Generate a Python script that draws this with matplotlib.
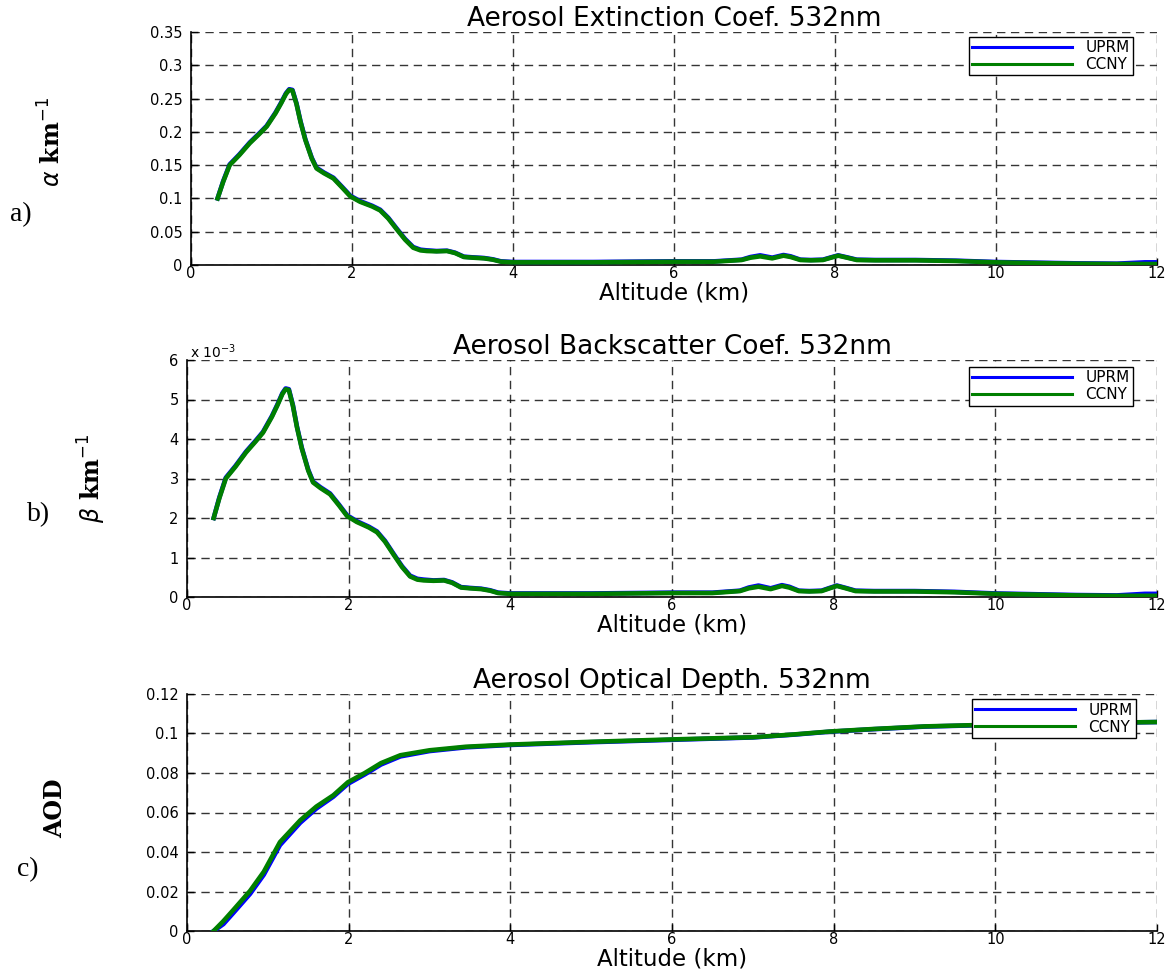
import matplotlib
matplotlib.use("Agg")
import matplotlib.pyplot as plt
from matplotlib.ticker import FuncFormatter

# ---------------- data ----------------
# Extinction coefficient (km^-1) versus altitude (km)
ext_alt = [0.33, 0.40, 0.48, 0.60, 0.73, 0.85, 0.94, 1.05, 1.12, 1.18, 1.22, 1.26,
           1.31, 1.36, 1.42, 1.50, 1.56, 1.65, 1.77, 1.88, 1.98, 2.10, 2.25, 2.35,
           2.45, 2.56, 2.66, 2.76, 2.85, 2.93, 3.05, 3.18, 3.28, 3.39, 3.50, 3.64,
           3.75, 3.85, 4.0, 4.5, 5.0, 5.5, 6.0, 6.5, 6.84, 6.95, 7.07, 7.22, 7.36,
           7.45, 7.57, 7.70, 7.85, 7.95, 8.04, 8.15, 8.27, 8.5, 9.0, 9.5, 10.0,
           10.5, 11.0, 11.5, 11.85, 12.0]
ext_ccny = [0.100, 0.125, 0.150, 0.165, 0.183, 0.197, 0.208, 0.228, 0.243, 0.257,
            0.263, 0.262, 0.242, 0.215, 0.188, 0.160, 0.145, 0.138, 0.130, 0.116,
            0.103, 0.095, 0.088, 0.082, 0.070, 0.053, 0.038, 0.026, 0.022, 0.021,
            0.0205, 0.021, 0.018, 0.012, 0.011, 0.010, 0.008, 0.005, 0.004, 0.004,
            0.004, 0.0045, 0.005, 0.005, 0.0075, 0.011, 0.0130, 0.010, 0.014, 0.012,
            0.0075, 0.007, 0.0075, 0.011, 0.014, 0.011, 0.0075, 0.007, 0.007,
            0.006, 0.004, 0.003, 0.002, 0.0015, 0.0015, 0.0015]
ext_uprm = [0.100, 0.126, 0.151, 0.166, 0.184, 0.198, 0.209, 0.229, 0.244, 0.258,
            0.264, 0.263, 0.243, 0.216, 0.189, 0.161, 0.146, 0.139, 0.131, 0.117,
            0.104, 0.096, 0.089, 0.083, 0.071, 0.054, 0.039, 0.027, 0.023, 0.022,
            0.021, 0.0215, 0.0185, 0.0125, 0.0115, 0.0105, 0.0085, 0.0055, 0.0045,
            0.0045, 0.0045, 0.005, 0.0055, 0.0055, 0.008, 0.012, 0.0145, 0.011,
            0.015, 0.013, 0.008, 0.0075, 0.008, 0.0115, 0.0145, 0.0115, 0.008,
            0.0075, 0.0075, 0.0065, 0.0045, 0.0035, 0.0025, 0.002, 0.004, 0.004]

# Backscatter coefficient (km^-1 sr^-1) versus altitude (km)
bsc_ccny = [2.00e-3, 2.50e-3, 3.00e-3, 3.30e-3, 3.66e-3, 3.94e-3, 4.16e-3, 4.56e-3,
            4.86e-3, 5.14e-3, 5.26e-3, 5.24e-3, 4.84e-3, 4.30e-3, 3.76e-3, 3.20e-3,
            2.90e-3, 2.76e-3, 2.60e-3, 2.32e-3, 2.05e-3, 1.90e-3, 1.76e-3, 1.64e-3,
            1.40e-3, 1.06e-3, 0.76e-3, 0.52e-3, 0.44e-3, 0.42e-3, 0.41e-3, 0.42e-3,
            0.36e-3, 0.24e-3, 0.22e-3, 0.20e-3, 0.16e-3, 0.10e-3, 0.08e-3, 0.08e-3,
            0.08e-3, 0.09e-3, 0.10e-3, 0.10e-3, 0.15e-3, 0.22e-3, 0.26e-3, 0.20e-3,
            0.28e-3, 0.24e-3, 0.15e-3, 0.14e-3, 0.15e-3, 0.22e-3, 0.28e-3, 0.22e-3,
            0.15e-3, 0.14e-3, 0.14e-3, 0.12e-3, 0.08e-3, 0.06e-3, 0.04e-3, 0.03e-3,
            0.03e-3, 0.03e-3]
bsc_uprm = [2.00e-3, 2.52e-3, 3.02e-3, 3.32e-3, 3.68e-3, 3.96e-3, 4.18e-3, 4.58e-3,
            4.88e-3, 5.16e-3, 5.28e-3, 5.26e-3, 4.86e-3, 4.32e-3, 3.78e-3, 3.22e-3,
            2.92e-3, 2.78e-3, 2.62e-3, 2.34e-3, 2.07e-3, 1.92e-3, 1.78e-3, 1.66e-3,
            1.42e-3, 1.08e-3, 0.78e-3, 0.54e-3, 0.46e-3, 0.44e-3, 0.42e-3, 0.43e-3,
            0.37e-3, 0.25e-3, 0.23e-3, 0.21e-3, 0.17e-3, 0.11e-3, 0.09e-3, 0.09e-3,
            0.09e-3, 0.10e-3, 0.11e-3, 0.11e-3, 0.16e-3, 0.24e-3, 0.29e-3, 0.22e-3,
            0.30e-3, 0.26e-3, 0.16e-3, 0.15e-3, 0.16e-3, 0.23e-3, 0.29e-3, 0.23e-3,
            0.16e-3, 0.15e-3, 0.15e-3, 0.13e-3, 0.09e-3, 0.07e-3, 0.05e-3, 0.04e-3,
            0.08e-3, 0.08e-3]

# Aerosol optical depth versus altitude (km)
aod_alt = [0.33, 0.45, 0.57, 0.78, 0.95, 1.15, 1.40, 1.60, 1.81, 1.99, 2.20, 2.40,
           2.64, 3.00, 3.45, 4.0, 5.0, 6.0, 7.0, 7.5, 7.95, 8.5, 9.13, 10.0, 11.0,
           12.0]
aod_ccny = [0.0, 0.005, 0.0105, 0.0203, 0.030, 0.045, 0.056, 0.063, 0.0687, 0.0753,
            0.080, 0.085, 0.089, 0.0915, 0.0933, 0.0944, 0.0958, 0.0970, 0.0981,
            0.0995, 0.1010, 0.1023, 0.1036, 0.1045, 0.1053, 0.1058]
aod_uprm = [0.0, 0.0035, 0.0090, 0.0188, 0.0285, 0.0435, 0.0548, 0.0620, 0.0680,
            0.0745, 0.0793, 0.0843, 0.0884, 0.0911, 0.0930, 0.0942, 0.0956, 0.0968,
            0.0980, 0.0994, 0.1009, 0.1022, 0.1035, 0.1044, 0.1052, 0.1058]

series_names = ["UPRM", "CCNY"]
titles = ["Aerosol Extinction Coef. 532nm",
          "Aerosol Backscatter Coef. 532nm",
          "Aerosol Optical Depth. 532nm"]
panel_tags = ["a)", "b)", "c)"]
xticks = [0, 2, 4, 6, 8, 10, 12]
yticks_ext = [0, 0.05, 0.1, 0.15, 0.2, 0.25, 0.3, 0.35]
yticks_bsc = [0, 1e-3, 2e-3, 3e-3, 4e-3, 5e-3, 6e-3]
yticks_aod = [0, 0.02, 0.04, 0.06, 0.08, 0.1, 0.12]

# ---------------- figure ----------------
W, H = 1176, 974
fig = plt.figure(figsize=(W / 100, H / 100), dpi=100)
fig.patch.set_facecolor("white")


def px_axes(left, top, right, bottom):
    return fig.add_axes([left / W, 1 - bottom / H, (right - left) / W, (bottom - top) / H])


ax_a = px_axes(191, 32, 1157, 265)
ax_b = px_axes(187, 360, 1157, 597)
ax_c = px_axes(187, 694, 1157, 931)

BLUE = "#0000ff"
GREEN = "#007f00"
LW = 3.3


def style(ax, yticks, ylim, title, legend_anchor):
    ax.set_xlim(0, 12)
    ax.set_ylim(*ylim)
    ax.set_xticks(xticks)
    ax.set_yticks(yticks)
    for s in ("top", "right"):
        ax.spines[s].set_visible(False)
    for s in ("left", "bottom"):
        ax.spines[s].set_linewidth(1.2)
    ax.grid(True, color="#111111", linestyle=(0, (6, 4)), linewidth=1.0, alpha=0.85)
    ax.set_axisbelow(True)
    ax.tick_params(direction="in", length=5, width=1, labelsize=10.5)
    ax.tick_params(axis="x", pad=1)
    ax.tick_params(axis="y", pad=6)
    for lab in ax.get_xticklabels() + ax.get_yticklabels():
        lab.set_fontfamily("DejaVu Sans")
    ax.set_title(title, fontsize=19, family="DejaVu Sans", pad=4)
    ax.set_xlabel("Altitude (km)", fontsize=16.5, family="DejaVu Sans", labelpad=0)
    leg = ax.legend(loc="upper right", bbox_to_anchor=legend_anchor, borderaxespad=0,
                    fontsize=11, handlelength=6.5, handletextpad=0.9,
                    frameon=True, fancybox=False, framealpha=1.0,
                    borderpad=0.2, labelspacing=0.15)
    leg.get_frame().set_edgecolor("black")
    leg.get_frame().set_linewidth(1.0)
    for h in leg.get_lines():
        h.set_linewidth(2.2)


# a) extinction
ax_a.plot(ext_alt, ext_uprm, color=BLUE, lw=LW, label=series_names[0], zorder=3,
          solid_joinstyle="round")
ax_a.plot(ext_alt, ext_ccny, color=GREEN, lw=LW, label=series_names[1], zorder=4,
          solid_joinstyle="round")
style(ax_a, yticks_ext, (0, 0.35), titles[0], (0.975, 0.979))
ax_a.yaxis.set_major_formatter(FuncFormatter(lambda v, p: f"{v:g}"))

# b) backscatter
ax_b.plot(ext_alt, bsc_uprm, color=BLUE, lw=LW, label=series_names[0], zorder=3,
          solid_joinstyle="round")
ax_b.plot(ext_alt, bsc_ccny, color=GREEN, lw=LW, label=series_names[1], zorder=4,
          solid_joinstyle="round")
style(ax_b, yticks_bsc, (0, 6e-3), titles[1], (0.975, 0.970))
ax_b.yaxis.set_major_formatter(FuncFormatter(lambda v, p: f"{v * 1e3:g}"))
fig.text(190 / W, 1 - 352 / H, r"x 10$^{-3}$", fontsize=10, family="DejaVu Sans",
         va="center", ha="left")

# c) optical depth
ax_c.plot(aod_alt, aod_uprm, color=BLUE, lw=LW, label=series_names[0], zorder=3,
          solid_joinstyle="round")
ax_c.plot(aod_alt, aod_ccny, color=GREEN, lw=LW, label=series_names[1], zorder=4,
          solid_joinstyle="round")
style(ax_c, yticks_aod, (0, 0.12), titles[2], (0.978, 0.977))
ax_c.yaxis.set_major_formatter(FuncFormatter(lambda v, p: f"{v:g}"))

# y-axis quantity labels
fig.text(52 / W, 1 - 142 / H, r"$\alpha$ km$^{-1}$", rotation=90, fontsize=17,
         fontweight="bold", family="DejaVu Serif", ha="center", va="center")
fig.text(92 / W, 1 - 478 / H, r"$\beta$ km$^{-1}$", rotation=90, fontsize=17,
         fontweight="bold", family="DejaVu Serif", ha="center", va="center")
fig.text(55 / W, 1 - 808 / H, "AOD", rotation=90, fontsize=17,
         fontweight="bold", family="DejaVu Serif", ha="center", va="center")

# panel tags
for tag, (x, y) in zip(panel_tags, [(10, 215), (27, 515), (17, 870)]):
    fig.text(x / W, 1 - y / H, tag, fontsize=20, family="Liberation Serif",
             ha="left", va="center")

fig.savefig("out.png", dpi=100)
